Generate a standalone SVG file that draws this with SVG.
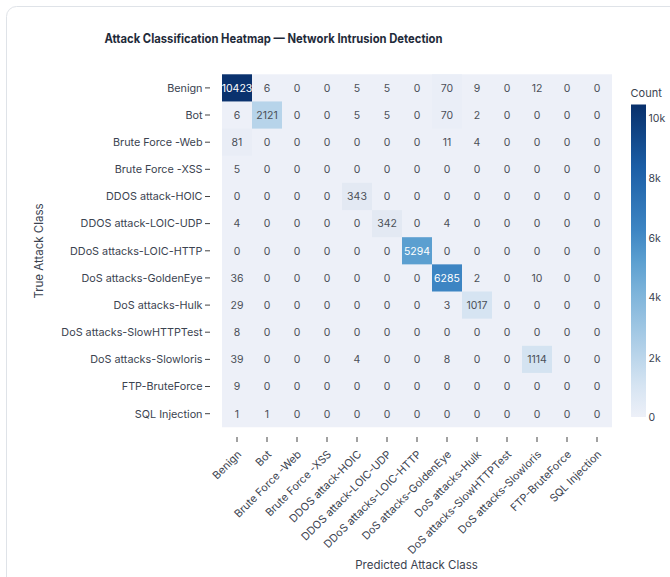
<svg xmlns="http://www.w3.org/2000/svg" width="670" height="577" viewBox="0 0 670 577">
<defs>
<style>
text{font-family:Inter,"Liberation Sans",sans-serif}
.t{font-size:12.5px;font-weight:700;fill:#1f2b3a;text-anchor:middle}
.yl{font-size:10.8px;fill:#3b4350;text-anchor:end}
.xl{font-size:10.8px;fill:#3b4350;text-anchor:end}
.v{font-size:10.5px;fill:#4a4f57;text-anchor:middle}
.w{fill:#ffffff}
.at{font-size:11.5px;fill:#3b4350;text-anchor:middle}
.cb{font-size:10.5px;fill:#3b4350}
.tk{stroke:#444;stroke-width:1}
</style>
<linearGradient id="cbg" x1="0" y1="1" x2="0" y2="0">
<stop offset="0" stop-color="#edf0f8"/>
<stop offset="0.1" stop-color="#d6e4f2"/>
<stop offset="0.2" stop-color="#b8d4ea"/>
<stop offset="0.4" stop-color="#7cb3da"/>
<stop offset="0.5" stop-color="#5b9fd0"/>
<stop offset="0.6" stop-color="#3d85c3"/>
<stop offset="0.8" stop-color="#1b5ea6"/>
<stop offset="1" stop-color="#08306b"/>
</linearGradient>
</defs>
<rect x="0" y="0" width="670" height="577" fill="#ffffff"/>
<rect x="6.5" y="6.5" width="690" height="600" rx="10" fill="#ffffff" stroke="#dfe3e8"/>
<text id="title" class="t" x="273.5" y="43" textLength="338" lengthAdjust="spacingAndGlyphs">Attack Classification Heatmap — Network Intrusion Detection</text>

<g id="cells">
<rect x="222" y="74.3" width="390" height="352.95" fill="#edf0f8"/>
<rect x="222" y="74.3" width="30" height="27.15" fill="#0a326e"/>
<rect x="252" y="101.45" width="30" height="27.15" fill="#b7d4ea"/>
<rect x="222" y="128.6" width="30" height="27.15" fill="#e9edf6"/>
<rect x="432" y="74.3" width="30" height="54.3" fill="#eaeef7"/>
<rect x="342" y="182.9" width="30" height="27.15" fill="#e3e9f3"/>
<rect x="372" y="210.05" width="30" height="27.15" fill="#e3e9f3"/>
<rect x="402" y="237.2" width="30" height="27.15" fill="#5b9fd0"/>
<rect x="432" y="264.35" width="30" height="27.15" fill="#3d85c3"/>
<rect x="462" y="291.5" width="30" height="27.15" fill="#d6e4f2"/>
<rect x="522" y="345.8" width="30" height="27.15" fill="#d4e3f1"/>
</g>

<g id="values" class="v">
<text y="91.7"><tspan class="w" x="237">10423</tspan><tspan x="267">6</tspan><tspan x="297">0</tspan><tspan x="327">0</tspan><tspan x="357">5</tspan><tspan x="387">5</tspan><tspan x="417">0</tspan><tspan x="447">70</tspan><tspan x="477">9</tspan><tspan x="507">0</tspan><tspan x="537">12</tspan><tspan x="567">0</tspan><tspan x="597">0</tspan></text>
<text y="118.8"><tspan x="237">6</tspan><tspan x="267">2121</tspan><tspan x="297">0</tspan><tspan x="327">0</tspan><tspan x="357">5</tspan><tspan x="387">5</tspan><tspan x="417">0</tspan><tspan x="447">70</tspan><tspan x="477">2</tspan><tspan x="507">0</tspan><tspan x="537">0</tspan><tspan x="567">0</tspan><tspan x="597">0</tspan></text>
<text y="146"><tspan x="237">81</tspan><tspan x="267">0</tspan><tspan x="297">0</tspan><tspan x="327">0</tspan><tspan x="357">0</tspan><tspan x="387">0</tspan><tspan x="417">0</tspan><tspan x="447">11</tspan><tspan x="477">4</tspan><tspan x="507">0</tspan><tspan x="537">0</tspan><tspan x="567">0</tspan><tspan x="597">0</tspan></text>
<text y="173.1"><tspan x="237">5</tspan><tspan x="267">0</tspan><tspan x="297">0</tspan><tspan x="327">0</tspan><tspan x="357">0</tspan><tspan x="387">0</tspan><tspan x="417">0</tspan><tspan x="447">0</tspan><tspan x="477">0</tspan><tspan x="507">0</tspan><tspan x="537">0</tspan><tspan x="567">0</tspan><tspan x="597">0</tspan></text>
<text y="200.3"><tspan x="237">0</tspan><tspan x="267">0</tspan><tspan x="297">0</tspan><tspan x="327">0</tspan><tspan x="357">343</tspan><tspan x="387">0</tspan><tspan x="417">0</tspan><tspan x="447">0</tspan><tspan x="477">0</tspan><tspan x="507">0</tspan><tspan x="537">0</tspan><tspan x="567">0</tspan><tspan x="597">0</tspan></text>
<text y="227.4"><tspan x="237">4</tspan><tspan x="267">0</tspan><tspan x="297">0</tspan><tspan x="327">0</tspan><tspan x="357">0</tspan><tspan x="387">342</tspan><tspan x="417">0</tspan><tspan x="447">4</tspan><tspan x="477">0</tspan><tspan x="507">0</tspan><tspan x="537">0</tspan><tspan x="567">0</tspan><tspan x="597">0</tspan></text>
<text y="254.6"><tspan x="237">0</tspan><tspan x="267">0</tspan><tspan x="297">0</tspan><tspan x="327">0</tspan><tspan x="357">0</tspan><tspan x="387">0</tspan><tspan class="w" x="417">5294</tspan><tspan x="447">0</tspan><tspan x="477">0</tspan><tspan x="507">0</tspan><tspan x="537">0</tspan><tspan x="567">0</tspan><tspan x="597">0</tspan></text>
<text y="281.7"><tspan x="237">36</tspan><tspan x="267">0</tspan><tspan x="297">0</tspan><tspan x="327">0</tspan><tspan x="357">0</tspan><tspan x="387">0</tspan><tspan x="417">0</tspan><tspan class="w" x="447">6285</tspan><tspan x="477">2</tspan><tspan x="507">0</tspan><tspan x="537">10</tspan><tspan x="567">0</tspan><tspan x="597">0</tspan></text>
<text y="308.9"><tspan x="237">29</tspan><tspan x="267">0</tspan><tspan x="297">0</tspan><tspan x="327">0</tspan><tspan x="357">0</tspan><tspan x="387">0</tspan><tspan x="417">0</tspan><tspan x="447">3</tspan><tspan x="477">1017</tspan><tspan x="507">0</tspan><tspan x="537">0</tspan><tspan x="567">0</tspan><tspan x="597">0</tspan></text>
<text y="336"><tspan x="237">8</tspan><tspan x="267">0</tspan><tspan x="297">0</tspan><tspan x="327">0</tspan><tspan x="357">0</tspan><tspan x="387">0</tspan><tspan x="417">0</tspan><tspan x="447">0</tspan><tspan x="477">0</tspan><tspan x="507">0</tspan><tspan x="537">0</tspan><tspan x="567">0</tspan><tspan x="597">0</tspan></text>
<text y="363.2"><tspan x="237">39</tspan><tspan x="267">0</tspan><tspan x="297">0</tspan><tspan x="327">0</tspan><tspan x="357">4</tspan><tspan x="387">0</tspan><tspan x="417">0</tspan><tspan x="447">8</tspan><tspan x="477">0</tspan><tspan x="507">0</tspan><tspan x="537">1114</tspan><tspan x="567">0</tspan><tspan x="597">0</tspan></text>
<text y="390.3"><tspan x="237">9</tspan><tspan x="267">0</tspan><tspan x="297">0</tspan><tspan x="327">0</tspan><tspan x="357">0</tspan><tspan x="387">0</tspan><tspan x="417">0</tspan><tspan x="447">0</tspan><tspan x="477">0</tspan><tspan x="507">0</tspan><tspan x="537">0</tspan><tspan x="567">0</tspan><tspan x="597">0</tspan></text>
<text y="417.5"><tspan x="237">1</tspan><tspan x="267">1</tspan><tspan x="297">0</tspan><tspan x="327">0</tspan><tspan x="357">0</tspan><tspan x="387">0</tspan><tspan x="417">0</tspan><tspan x="447">0</tspan><tspan x="477">0</tspan><tspan x="507">0</tspan><tspan x="537">0</tspan><tspan x="567">0</tspan><tspan x="597">0</tspan></text>
</g>

<g id="y-axis">
<path class="tk" d="M205 87.9H210M205 115H210M205 142.2H210M205 169.3H210M205 196.5H210M205 223.6H210M205 250.8H210M205 277.9H210M205 305.1H210M205 332.2H210M205 359.4H210M205 386.5H210M205 413.7H210"/>
<text class="yl" x="202.5" y="91.7">Benign</text>
<text class="yl" x="202.5" y="118.8">Bot</text>
<text class="yl" x="202.5" y="146">Brute Force -Web</text>
<text class="yl" x="202.5" y="173.1">Brute Force -XSS</text>
<text class="yl" x="202.5" y="200.3">DDOS attack-HOIC</text>
<text class="yl" x="202.5" y="227.4">DDOS attack-LOIC-UDP</text>
<text class="yl" x="202.5" y="254.6">DDoS attacks-LOIC-HTTP</text>
<text class="yl" x="202.5" y="281.7">DoS attacks-GoldenEye</text>
<text class="yl" x="202.5" y="308.9">DoS attacks-Hulk</text>
<text class="yl" x="202.5" y="336">DoS attacks-SlowHTTPTest</text>
<text class="yl" x="202.5" y="363.2">DoS attacks-Slowloris</text>
<text class="yl" x="202.5" y="390.3">FTP-BruteForce</text>
<text class="yl" x="202.5" y="417.5">SQL Injection</text>
<text class="at" transform="translate(42.5 251) rotate(-90)">True Attack Class</text>
</g>

<g id="x-axis">
<path class="tk" d="M237 437V442M267 437V442M297 437V442M327 437V442M357 437V442M387 437V442M417 437V442M447 437V442M477 437V442M507 437V442M537 437V442M567 437V442M597 437V442"/>
<text class="xl" transform="translate(242 455) rotate(-45)">Benign</text>
<text class="xl" transform="translate(272 455) rotate(-45)">Bot</text>
<text class="xl" transform="translate(302 455) rotate(-45)">Brute Force -Web</text>
<text class="xl" transform="translate(332 455) rotate(-45)">Brute Force -XSS</text>
<text class="xl" transform="translate(362 455) rotate(-45)">DDOS attack-HOIC</text>
<text class="xl" transform="translate(392 455) rotate(-45)">DDOS attack-LOIC-UDP</text>
<text class="xl" transform="translate(422 455) rotate(-45)">DDoS attacks-LOIC-HTTP</text>
<text class="xl" transform="translate(452 455) rotate(-45)">DoS attacks-GoldenEye</text>
<text class="xl" transform="translate(482 455) rotate(-45)">DoS attacks-Hulk</text>
<text class="xl" transform="translate(512 455) rotate(-45)">DoS attacks-SlowHTTPTest</text>
<text class="xl" transform="translate(542 455) rotate(-45)">DoS attacks-Slowloris</text>
<text class="xl" transform="translate(572 455) rotate(-45)">FTP-BruteForce</text>
<text class="xl" transform="translate(602 455) rotate(-45)">SQL Injection</text>
<text class="at" x="416.5" y="569">Predicted Attack Class</text>
</g>

<g id="colorbar">
<text class="cb" x="630.5" y="96.5" style="font-size:11px">Count</text>
<rect x="631" y="104.5" width="15" height="312.5" fill="url(#cbg)"/>
<text class="cb" x="648.5" y="121.8">10k</text>
<text class="cb" x="648.5" y="182.3">8k</text>
<text class="cb" x="648.5" y="242.3">6k</text>
<text class="cb" x="648.5" y="301.3">4k</text>
<text class="cb" x="648.5" y="362.3">2k</text>
<text class="cb" x="648.5" y="421">0</text>
</g>
</svg>
